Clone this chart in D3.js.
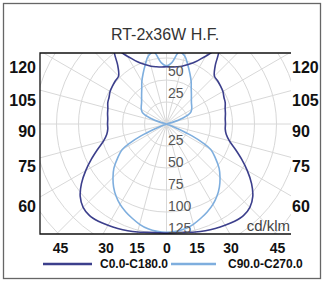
<!DOCTYPE html>
<html><head><meta charset="utf-8">
<script src="https://cdn.jsdelivr.net/npm/d3@7"></script>
<style>body{margin:0;background:#fff}svg{display:block}</style>
</head><body>
<script>
// ---- data ----
const chartTitle = "RT-2x36W H.F.";
const unitLabel = "cd/klm";
const seriesNames = ["C0.0-C180.0", "C90.0-C270.0"];
// C0-C180 plane: gamma angle (deg from nadir) and intensity (cd/klm)
const c0Angles = [0,5,10,15,20,25,30,35,40,45,50,55,60,65,70,75,80,85,90,95,100,105,110,115,120,125,130,135,140,145,150,155,160,165,170,175,180];
const c0Values = [124,124,125,127,129,131,133,135,136,134,128,118,106,94,83,74,69,67,67,67,68,69,71,72,74,75,76,77,86,103,89,78,72,68,66,65,65];
// C90-C270 plane
const c90Angles = [0,5,10,15,20,25,30,35,40,45,50,55,60,62.5,65,67.5,70,90,105,110,115,120,125,130,135,140,145,150,155,160,165,170,175,180];
const c90Values = [123,122.5,121,118,114,110,105.5,100,93.5,86,78,68,58,47,32,14,4,0,6,20,30,33,35,37,40,44,49,56,63,71,80,83,70,66];
const ringTicks = [25,50,75,100,125,150,175,200];
const ringLabelsUp = [25,50];
const ringLabelsDown = [25,50,75,100,125];
const sideTicks = [120,105,90,75,60];
const bottomTicks = [-45,-30,-15,0,15,30,45];

// ---- layout ----
const W = 324, H = 282;
const plot = {left:40, right:291, top:53, bottom:234};
const cx = 166.5, cy = 124;
const r = d3.scaleLinear().domain([0,125]).range([0,110]);
const sideY = d3.scaleLinear().domain([60,75,90,105,120]).range([206,166,131,100,67]);
const bottomX = d3.scaleLinear().domain([-45,-30,-15,0,15,30,45]).range([60.5,106,137,167,197,231,277.5]);
const colors = ["#3c3f8c", "#7eaede"];
const font = "'Liberation Sans', Arial, sans-serif";

const svg = d3.select("body").append("svg").attr("width", W).attr("height", H);
svg.append("rect").attr("x",3.5).attr("y",3.5).attr("width",317).attr("height",275)
  .attr("fill","#fff").attr("stroke","#666").attr("stroke-width",1.3);

svg.append("text").attr("x",165).attr("y",40).attr("text-anchor","middle")
  .attr("font-family",font).attr("font-size",16).attr("fill","#333").text(chartTitle);

svg.append("defs").append("clipPath").attr("id","clip").append("rect")
  .attr("x",plot.left).attr("y",plot.top).attr("width",plot.right-plot.left).attr("height",plot.bottom-plot.top);

const g = svg.append("g").attr("clip-path","url(#clip)");
const gc = g.append("g").attr("transform",`translate(${cx},${cy})`);

// grid rings
gc.selectAll("circle.ring").data(ringTicks).join("circle")
  .attr("r", d => r(d)).attr("fill","none").attr("stroke","#d8d8d8").attr("stroke-width",1);
// radial lines every 15 degrees
gc.selectAll("line.rad").data(d3.range(0,360,15)).join("line")
  .attr("x1",0).attr("y1",0)
  .attr("x2", d => 400*Math.sin(d*Math.PI/180)).attr("y2", d => 400*Math.cos(d*Math.PI/180))
  .attr("stroke","#d8d8d8").attr("stroke-width",1);

// curves
function pts(angles, values){
  const right = angles.map((a,i)=>[Math.PI - a*Math.PI/180, r(values[i])]);
  const left = [];
  for(let i=angles.length-2;i>=1;i--) left.push([Math.PI + angles[i]*Math.PI/180, r(values[i])]);
  return right.concat(left);
}
const line = d3.lineRadial().angle(d=>d[0]).radius(d=>d[1]).curve(d3.curveCatmullRomClosed.alpha(0.5));
gc.append("path").attr("d", line(pts(c90Angles,c90Values))).attr("fill","none")
  .attr("stroke",colors[1]).attr("stroke-width",1.6);
gc.append("path").attr("d", line(pts(c0Angles,c0Values))).attr("fill","none")
  .attr("stroke",colors[0]).attr("stroke-width",1.6);

// ring labels
gc.selectAll("text.up").data(ringLabelsUp).join("text")
  .attr("x",1.5).attr("y",d=>-r(d)-4.5).attr("font-family",font).attr("font-size",14)
  .attr("fill","#555").text(d=>d);
gc.selectAll("text.down").data(ringLabelsDown).join("text")
  .attr("x",1.5).attr("y",d=>r(d)-1.5).attr("font-family",font).attr("font-size",14)
  .attr("fill","#555").text(d=>d);

// axes lines
svg.append("path").attr("d",`M${plot.right},${plot.top}H${plot.left}V${plot.bottom}H${plot.right}`)
  .attr("fill","none").attr("stroke","#111").attr("stroke-width",1.3);

svg.append("text").attr("x",plot.right-1).attr("y",231).attr("text-anchor","end")
  .attr("font-family",font).attr("font-size",15).attr("fill","#444").text(unitLabel);

// side labels
[[36,"end"],[292,"start"]].forEach(([x,anchor])=>{
  svg.selectAll(null).data(sideTicks).join("text")
    .attr("x",x).attr("y",d=>sideY(d)).attr("dy","0.35em").attr("text-anchor",anchor)
    .attr("font-family",font).attr("font-size",16).attr("font-weight","bold").attr("fill","#111")
    .text(d=>d);
});
// bottom labels
svg.selectAll(null).data(bottomTicks).join("text")
  .attr("x",d=>bottomX(d)).attr("y",253)
  .attr("text-anchor","middle").attr("font-family",font).attr("font-size",14)
  .attr("font-weight","bold").attr("fill","#111").text(d=>Math.abs(d));

// legend
const leg = [[43,92,100],[171,216,228]];
seriesNames.forEach((n,i)=>{
  svg.append("line").attr("x1",leg[i][0]).attr("x2",leg[i][1]).attr("y1",264).attr("y2",264)
    .attr("stroke",colors[i]).attr("stroke-width",2.5);
  svg.append("text").attr("x",leg[i][2]).attr("y",268).attr("font-family",font)
    .attr("font-size",12).attr("font-weight","bold").attr("fill","#111").text(n);
});
</script>
</body></html>
